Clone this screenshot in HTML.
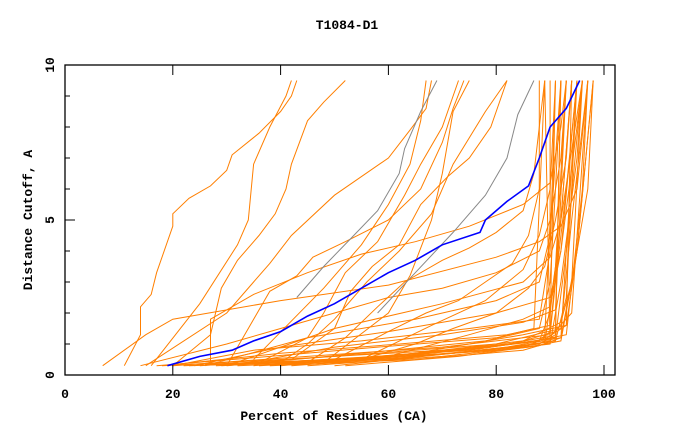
<!DOCTYPE html>
<html><head><meta charset="utf-8"><style>body{margin:0;background:#fff}svg text{font-family:"Liberation Mono",monospace;font-weight:bold;font-size:13px;fill:#000}</style></head>
<body>
<svg id="c" width="680" height="440" xmlns="http://www.w3.org/2000/svg">
<text x="347" y="29" text-anchor="middle">T1084-D1</text>
<text x="334" y="420" text-anchor="middle">Percent of Residues (CA)</text>
<text transform="translate(32,220) rotate(-90)" text-anchor="middle">Distance Cutoff, A</text>
<g id="lines"></g><g id="axes"></g>
</svg>
<script>
const xTicks=[0,20,40,60,80,100];
const yTicks=[0,5,10];
const orangeCurves=[
[[7,0.3],[15,1.3],[20,1.8],[40,2.4],[60,2.9],[80,3.8],[88,4.3],[92,4.8],[95,6],[97,9.5]],
[[11,0.3],[14,1.3],[14,2.2],[16,2.6],[17,3.3],[20,4.8],[20,5.2],[23,5.7],[27,6.1],[30,6.6],[31,7.1],[36,7.8],[40,8.5],[42,9.0],[43,9.5]],
[[15,0.3],[30,2.0],[35,3.0],[38,3.6],[42,4.5],[50,5.8],[60,7.0],[64,7.9],[67,8.6],[68,9.5]],
[[16,0.3],[25,2.3],[32,4.2],[34,5.0],[35,6.8],[38,8.0],[41,9.0],[42,9.5]],
[[14,0.3],[30,1.0],[40,1.5],[50,2.0],[60,2.5],[70,2.8],[80,3.3],[88,4.0],[90,5],[92,7],[93,9.5]],
[[20,0.3],[27,1.3],[29,2.8],[32,3.7],[36,4.5],[39,5.2],[41,6],[42,6.8],[45,8.2],[48,8.8],[52,9.5]],
[[30,0.3],[34,1.5],[38,2.7],[43,3.2],[46,3.8],[52,4.3],[60,5.0],[66,6],[70,7.5],[72,8.6],[74,9.5]],
[[35,0.3],[45,1.2],[48,2.0],[52,3.3],[58,4.3],[63,5.8],[66,6.8],[70,8],[73,9.5]],
[[40,0.4],[45,1.0],[50,1.8],[56,3.0],[62,4],[68,5.2],[72,6.8],[78,8.5],[82,9.5]],
[[45,0.4],[52,1.2],[58,2.2],[63,3],[70,3.7],[75,4.1],[80,4.6],[85,5.3],[87,6.5],[88,8],[89,9.5]],
[[50,0.5],[60,1.4],[67,2],[73,2.4],[78,3],[83,3.6],[86,4.5],[88,6],[88,9.5]],
[[55,0.5],[65,1],[72,1.5],[80,2],[86,2.8],[89,3.5],[91,5],[93,7],[94,9.5]],
[[42,0.5],[50,1.5],[53,2.7],[57,3.5],[62,4.2],[66,5.5],[71,6.4],[75,7],[79,8],[82,9.5]],
[[27,0.4],[27,1.8],[35,2.6],[45,3.3],[55,3.9],[65,4.3],[75,4.8],[85,5.5],[90,6.2],[92,8],[93,9.5]],
[[18,0.3],[40,0.5],[70,0.8],[88,1.1],[90,2],[92,5],[94,9.5]],
[[20,0.3],[45,0.6],[70,0.9],[90,1.3],[91,3],[93,6],[95,9.5]],
[[22,0.3],[50,0.5],[75,0.8],[91,1.2],[93,4],[96,9.5]],
[[25,0.3],[50,0.6],[80,1.0],[92,1.5],[94,5],[97,9.5]],
[[28,0.3],[55,0.5],[80,0.8],[90,1.0],[92,3],[95,7],[96,9.5]],
[[30,0.3],[55,0.7],[78,1.1],[88,1.5],[90,3],[91,6],[92,9.5]],
[[32,0.3],[60,0.5],[82,0.9],[92,1.2],[95,4],[98,9.5]],
[[35,0.3],[60,0.6],[85,1.1],[92,1.7],[94,3],[97,6],[98,9.5]],
[[38,0.3],[65,0.5],[85,0.8],[89,1.0],[91,3.5],[93,9.5]],
[[24,0.3],[40,0.9],[60,1.4],[80,2.0],[90,2.5],[92,4],[95,9.5]],
[[26,0.3],[45,1.2],[65,1.8],[80,2.4],[88,3],[90,4.5],[92,9.5]],
[[30,0.3],[50,1.5],[70,2.3],[85,3],[90,3.8],[92,5],[96,9.5]],
[[40,0.3],[65,0.7],[85,1.3],[93,1.6],[95,4],[98,9.5]],
[[45,0.3],[70,0.6],[86,0.9],[92,1.1],[94,3],[96,9.5]],
[[50,0.3],[72,0.7],[87,1.0],[90,1.4],[92,5],[94,9.5]],
[[20,0.3],[35,0.8],[55,1.1],[75,1.5],[88,1.8],[90,4],[91,9.5]],
[[48,0.4],[60,2.0],[64,3.2],[68,5],[70,6.5],[72,8.5],[75,9.5]],
[[35,0.5],[48,2.8],[55,4.2],[60,5.5],[64,6.8],[66,8.2],[67,9.5]],
[[55,0.5],[68,1.6],[78,2.4],[85,3.4],[88,4.5],[90,6],[91,9.5]],
[[60,0.6],[75,1.3],[85,1.8],[90,2.2],[92,4],[95,8],[96,9.5]],
[[23,0.3],[48,0.45],[72,0.7],[86,0.95],[89,1.2],[90,5],[90,9.5]],
[[26,0.35],[52,0.5],[76,0.75],[88,1.0],[91,1.3],[92,9.5]],
[[29,0.3],[54,0.55],[77,0.85],[89,1.15],[93,1.6],[94,9.5]],
[[33,0.35],[58,0.6],[79,0.9],[90,1.25],[94,2],[97,9.5]],
[[36,0.3],[62,0.55],[81,0.85],[91,1.1],[93,2.5],[95,9.5]],
[[39,0.35],[63,0.65],[83,1.0],[91,1.4],[92,9.5]],
[[42,0.3],[66,0.6],[84,0.9],[90,1.1],[89,9.5]],
[[46,0.35],[68,0.7],[86,1.05],[93,1.3],[96,6],[97,9.5]],
[[52,0.3],[73,0.6],[88,0.95],[92,1.2],[95,9.5]],
[[21,0.35],[40,0.7],[62,1.0],[82,1.3],[90,1.6],[91,9.5]],
[[17,0.3],[38,0.6],[58,0.9],[80,1.2],[87,1.5],[89,9.5]],
[[34,0.4],[50,0.9],[70,1.3],[85,1.7],[91,2.1],[93,9.5]]
];
const grayCurves=[
[[43,2.5],[48,3.5],[53,4.4],[58,5.3],[62,6.5],[63,7.3],[66,8.5],[69,9.5]],
[[58,2],[65,3.3],[72,4.6],[78,5.8],[82,7],[84,8.4],[87,9.5]]
];
const blueCurve=[[19,0.3],[25,0.6],[31,0.8],[35,1.1],[40,1.4],[45,1.9],[50,2.3],[55,2.8],[60,3.3],[65,3.7],[70,4.2],[77,4.6],[78,5.0],[82,5.6],[86,6.1],[88,7.0],[90,8.0],[93,8.6],[95.5,9.5]];
const sx=v=>65+v*5.39, sy=v=>375-v*31;
const NS='http://www.w3.org/2000/svg';
const g=document.getElementById('lines'), ax=document.getElementById('axes');
function line(pts,col,w,name){const p=document.createElementNS(NS,'polyline');
p.setAttribute('points',pts.map(q=>sx(q[0]).toFixed(1)+','+sy(q[1]).toFixed(1)).join(' '));
p.setAttribute('fill','none');p.setAttribute('stroke',col);p.setAttribute('stroke-width',w);


g.appendChild(p);}
orangeCurves.forEach(c=>line(c,'#ff7f00',1,'model-curve'));
grayCurves.forEach(c=>line(c,'#888888',1,'model-curve-gray'));
line(blueCurve,'#0000ff',1.6,'target-curve');
function el(tag,attrs,name,txt){const e=document.createElementNS(NS,tag);for(const k in attrs)e.setAttribute(k,attrs[k]);


if(txt!==undefined)e.textContent=txt;ax.appendChild(e);return e;}
el('rect',{x:65,y:65,width:550,height:310,fill:'none',stroke:'#000','stroke-width':1.3},'plot-frame');
xTicks.forEach(t=>{const x=sx(t);
el('line',{x1:x,y1:375,x2:x,y2:365,stroke:'#000'},'x-tick');
el('line',{x1:x,y1:65,x2:x,y2:75,stroke:'#000'},'x-tick-top');
el('text',{x:x,y:398,'text-anchor':'middle'},'x-tick-label',String(t));});
for(let d=1;d<10;d++){if(d===5)continue;el('line',{x1:65,y1:sy(d),x2:70,y2:sy(d),stroke:'#000'},'y-minor-tick');}
yTicks.forEach(t=>{const y=sy(t);
el('line',{x1:65,y1:y,x2:75,y2:y,stroke:'#000'},'y-tick');
el('text',{transform:`translate(54,${y}) rotate(-90)`,'text-anchor':'middle'},'y-tick-label',String(t));});
</script>
</body></html>
